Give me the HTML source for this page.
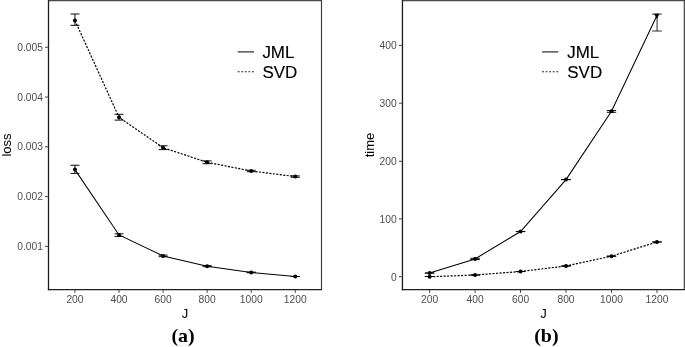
<!DOCTYPE html>
<html><head><meta charset="utf-8"><title>Figure</title>
<style>
html,body{margin:0;padding:0;background:#fff;}
body{width:685px;height:347px;overflow:hidden;font-family:"Liberation Sans",sans-serif;}
svg{display:block;will-change:transform;filter:grayscale(1);font-family:"Liberation Sans",sans-serif;}
</style></head><body>
<svg width="685" height="347" viewBox="0 0 685 347">
<rect x="0" y="0" width="685" height="347" fill="#fff"/>
<line x1="48.5" x2="322.0" y1="0.6" y2="0.6" stroke="#4b4b4b" stroke-width="1.3"/>
<line x1="321.5" x2="321.5" y1="0.5" y2="289.4" stroke="#3a3a3a" stroke-width="1.15"/>
<line x1="48.5" x2="48.5" y1="0" y2="290.35" stroke="#1c1c1c" stroke-width="1.3"/>
<line x1="47.85" x2="322.05" y1="289.65" y2="289.65" stroke="#202020" stroke-width="1.4"/>
<line x1="74.95" x2="74.95" y1="289.90" y2="292.90" stroke="#444" stroke-width="1"/>
<text x="74.95" y="302.7" font-size="10.25" fill="#4d4d4d" text-anchor="middle">200</text>
<line x1="119.02" x2="119.02" y1="289.90" y2="292.90" stroke="#444" stroke-width="1"/>
<text x="119.02" y="302.7" font-size="10.25" fill="#4d4d4d" text-anchor="middle">400</text>
<line x1="163.08" x2="163.08" y1="289.90" y2="292.90" stroke="#444" stroke-width="1"/>
<text x="163.08" y="302.7" font-size="10.25" fill="#4d4d4d" text-anchor="middle">600</text>
<line x1="207.15" x2="207.15" y1="289.90" y2="292.90" stroke="#444" stroke-width="1"/>
<text x="207.15" y="302.7" font-size="10.25" fill="#4d4d4d" text-anchor="middle">800</text>
<line x1="251.21" x2="251.21" y1="289.90" y2="292.90" stroke="#444" stroke-width="1"/>
<text x="251.21" y="302.7" font-size="10.25" fill="#4d4d4d" text-anchor="middle">1000</text>
<line x1="295.28" x2="295.28" y1="289.90" y2="292.90" stroke="#444" stroke-width="1"/>
<text x="295.28" y="302.7" font-size="10.25" fill="#4d4d4d" text-anchor="middle">1200</text>
<line x1="45.00" x2="48.5" y1="47.26" y2="47.26" stroke="#444" stroke-width="1"/>
<text x="42.90" y="50.81" font-size="10.25" fill="#4d4d4d" text-anchor="end">0.005</text>
<line x1="45.00" x2="48.5" y1="97.05" y2="97.05" stroke="#444" stroke-width="1"/>
<text x="42.90" y="100.60" font-size="10.25" fill="#4d4d4d" text-anchor="end">0.004</text>
<line x1="45.00" x2="48.5" y1="146.83" y2="146.83" stroke="#444" stroke-width="1"/>
<text x="42.90" y="150.38" font-size="10.25" fill="#4d4d4d" text-anchor="end">0.003</text>
<line x1="45.00" x2="48.5" y1="196.60" y2="196.60" stroke="#444" stroke-width="1"/>
<text x="42.90" y="200.15" font-size="10.25" fill="#4d4d4d" text-anchor="end">0.002</text>
<line x1="45.00" x2="48.5" y1="246.40" y2="246.40" stroke="#444" stroke-width="1"/>
<text x="42.90" y="249.95" font-size="10.25" fill="#4d4d4d" text-anchor="end">0.001</text>
<path d="M74.95,20.50 L119.02,117.30 L163.08,147.70 L207.15,162.30 L251.21,171.00 L295.28,176.60" fill="none" stroke="#000" stroke-width="1.2" stroke-dasharray="2.1 1.4"/>
<path d="M70.45,14.00H79.45M70.45,25.35H79.45M74.95,14.00V25.35" fill="none" stroke="#000" stroke-width="0.95"/>
<circle cx="74.95" cy="20.50" r="2.0" fill="#000"/>
<path d="M114.52,114.30H123.52M114.52,120.10H123.52M119.02,114.30V120.10" fill="none" stroke="#000" stroke-width="0.95"/>
<circle cx="119.02" cy="117.30" r="2.0" fill="#000"/>
<path d="M158.58,145.80H167.58M158.58,149.60H167.58M163.08,145.80V149.60" fill="none" stroke="#000" stroke-width="0.95"/>
<circle cx="163.08" cy="147.70" r="2.0" fill="#000"/>
<path d="M202.65,160.90H211.65M202.65,163.70H211.65M207.15,160.90V163.70" fill="none" stroke="#000" stroke-width="0.95"/>
<circle cx="207.15" cy="162.30" r="2.0" fill="#000"/>
<path d="M246.71,170.30H255.71M246.71,171.70H255.71M251.21,170.30V171.70" fill="none" stroke="#000" stroke-width="0.95"/>
<circle cx="251.21" cy="171.00" r="2.0" fill="#000"/>
<path d="M290.78,175.90H299.78M290.78,177.30H299.78M295.28,175.90V177.30" fill="none" stroke="#000" stroke-width="0.95"/>
<circle cx="295.28" cy="176.60" r="2.0" fill="#000"/>
<path d="M74.95,169.60 L119.02,234.95 L163.08,255.90 L207.15,266.20 L251.21,272.40 L295.28,276.50" fill="none" stroke="#000" stroke-width="1.05"/>
<path d="M70.45,165.25H79.45M70.45,173.40H79.45M74.95,165.25V173.40" fill="none" stroke="#000" stroke-width="0.95"/>
<circle cx="74.95" cy="169.60" r="2.0" fill="#000"/>
<path d="M114.52,233.80H123.52M114.52,236.45H123.52M119.02,233.80V236.45" fill="none" stroke="#000" stroke-width="0.95"/>
<circle cx="119.02" cy="234.95" r="2.0" fill="#000"/>
<path d="M158.58,255.10H167.58M158.58,256.70H167.58M163.08,255.10V256.70" fill="none" stroke="#000" stroke-width="0.95"/>
<circle cx="163.08" cy="255.90" r="2.0" fill="#000"/>
<path d="M202.65,265.70H211.65M202.65,266.70H211.65M207.15,265.70V266.70" fill="none" stroke="#000" stroke-width="0.95"/>
<circle cx="207.15" cy="266.20" r="2.0" fill="#000"/>
<path d="M246.71,272.10H255.71M246.71,272.70H255.71M251.21,272.10V272.70" fill="none" stroke="#000" stroke-width="0.95"/>
<circle cx="251.21" cy="272.40" r="2.0" fill="#000"/>
<path d="M290.78,276.50H299.78M290.78,276.50H299.78M295.28,276.50V276.50" fill="none" stroke="#000" stroke-width="0.95"/>
<circle cx="295.28" cy="276.50" r="2.0" fill="#000"/>
<line x1="237.8" x2="254.0" y1="51.9" y2="51.9" stroke="#222" stroke-width="1.15"/>
<line x1="237.8" x2="254.0" y1="71.7" y2="71.7" stroke="#222" stroke-width="1.15" stroke-dasharray="1.85 1.7"/>
<text transform="translate(262.4,58.1) scale(1.04,1)" font-size="16.3" fill="#000" stroke="#000" stroke-width="0.15">JML</text>
<text transform="translate(262.4,77.8) scale(1.04,1)" font-size="16.3" fill="#000" stroke="#000" stroke-width="0.15">SVD</text>
<text transform="translate(10.7,145) rotate(-90)" font-size="13.0" fill="#000" text-anchor="middle">loss</text>
<text x="185.1" y="317.6" font-size="13.0" fill="#000" text-anchor="middle">J</text>
<text transform="translate(183.1,341.9) scale(1.05,1)" font-size="19" font-weight="bold" font-family="'Liberation Serif', serif" fill="#000" text-anchor="middle">(a)</text>
<line x1="402.45" x2="685" y1="0.6" y2="0.6" stroke="#4b4b4b" stroke-width="1.3"/>
<line x1="684.4" x2="684.4" y1="1" y2="289.4" stroke="#505050" stroke-width="1.4"/>
<line x1="402.45" x2="402.45" y1="0" y2="290.35" stroke="#1c1c1c" stroke-width="1.3"/>
<line x1="401.80" x2="685.00" y1="289.65" y2="289.65" stroke="#202020" stroke-width="1.4"/>
<line x1="429.60" x2="429.60" y1="289.90" y2="292.90" stroke="#444" stroke-width="1"/>
<text x="429.60" y="302.7" font-size="10.25" fill="#4d4d4d" text-anchor="middle">200</text>
<line x1="475.07" x2="475.07" y1="289.90" y2="292.90" stroke="#444" stroke-width="1"/>
<text x="475.07" y="302.7" font-size="10.25" fill="#4d4d4d" text-anchor="middle">400</text>
<line x1="520.54" x2="520.54" y1="289.90" y2="292.90" stroke="#444" stroke-width="1"/>
<text x="520.54" y="302.7" font-size="10.25" fill="#4d4d4d" text-anchor="middle">600</text>
<line x1="566.01" x2="566.01" y1="289.90" y2="292.90" stroke="#444" stroke-width="1"/>
<text x="566.01" y="302.7" font-size="10.25" fill="#4d4d4d" text-anchor="middle">800</text>
<line x1="611.48" x2="611.48" y1="289.90" y2="292.90" stroke="#444" stroke-width="1"/>
<text x="611.48" y="302.7" font-size="10.25" fill="#4d4d4d" text-anchor="middle">1000</text>
<line x1="656.95" x2="656.95" y1="289.90" y2="292.90" stroke="#444" stroke-width="1"/>
<text x="656.95" y="302.7" font-size="10.25" fill="#4d4d4d" text-anchor="middle">1200</text>
<line x1="398.95" x2="402.45" y1="45.40" y2="45.40" stroke="#444" stroke-width="1"/>
<text x="396.65" y="49.25" font-size="10.25" fill="#4d4d4d" text-anchor="end">400</text>
<line x1="398.95" x2="402.45" y1="103.20" y2="103.20" stroke="#444" stroke-width="1"/>
<text x="396.65" y="107.05" font-size="10.25" fill="#4d4d4d" text-anchor="end">300</text>
<line x1="398.95" x2="402.45" y1="161.25" y2="161.25" stroke="#444" stroke-width="1"/>
<text x="396.65" y="165.10" font-size="10.25" fill="#4d4d4d" text-anchor="end">200</text>
<line x1="398.95" x2="402.45" y1="218.85" y2="218.85" stroke="#444" stroke-width="1"/>
<text x="396.65" y="222.70" font-size="10.25" fill="#4d4d4d" text-anchor="end">100</text>
<line x1="398.95" x2="402.45" y1="276.65" y2="276.65" stroke="#444" stroke-width="1"/>
<text x="396.65" y="280.50" font-size="10.25" fill="#4d4d4d" text-anchor="end">0</text>
<path d="M429.60,276.75 L475.07,275.00 L520.54,271.50 L566.01,266.00 L611.48,256.20 L656.95,242.00" fill="none" stroke="#000" stroke-width="1.2" stroke-dasharray="2.1 1.4"/>
<path d="M424.90,276.50H434.30M424.90,276.50H434.30M429.60,276.50V276.50" fill="none" stroke="#000" stroke-width="0.95"/>
<circle cx="429.60" cy="276.75" r="2.0" fill="#000"/>
<path d="M470.37,275.00H479.77M470.37,275.00H479.77M475.07,275.00V275.00" fill="none" stroke="#000" stroke-width="0.95"/>
<circle cx="475.07" cy="275.00" r="2.0" fill="#000"/>
<path d="M515.84,271.50H525.24M515.84,271.50H525.24M520.54,271.50V271.50" fill="none" stroke="#000" stroke-width="0.95"/>
<circle cx="520.54" cy="271.50" r="2.0" fill="#000"/>
<path d="M561.31,266.00H570.71M561.31,266.00H570.71M566.01,266.00V266.00" fill="none" stroke="#000" stroke-width="0.95"/>
<circle cx="566.01" cy="266.00" r="2.0" fill="#000"/>
<path d="M606.78,256.20H616.18M606.78,256.20H616.18M611.48,256.20V256.20" fill="none" stroke="#000" stroke-width="0.95"/>
<circle cx="611.48" cy="256.20" r="2.0" fill="#000"/>
<path d="M652.25,242.00H661.65M652.25,242.00H661.65M656.95,242.00V242.00" fill="none" stroke="#000" stroke-width="0.95"/>
<circle cx="656.95" cy="242.00" r="2.0" fill="#000"/>
<path d="M429.60,272.90 L475.07,258.90 L520.54,231.50 L566.01,179.60 L611.48,111.30 L656.95,15.60" fill="none" stroke="#000" stroke-width="1.05"/>
<path d="M424.90,273.05H434.30M424.90,273.05H434.30M429.60,273.05V273.05" fill="none" stroke="#000" stroke-width="0.95"/>
<circle cx="429.60" cy="272.90" r="2.0" fill="#000"/>
<path d="M470.37,258.30H479.77M470.37,259.50H479.77M475.07,258.30V259.50" fill="none" stroke="#000" stroke-width="0.95"/>
<circle cx="475.07" cy="258.90" r="2.0" fill="#000"/>
<path d="M515.84,231.55H525.24M515.84,231.55H525.24M520.54,231.55V231.55" fill="none" stroke="#000" stroke-width="0.95"/>
<circle cx="520.54" cy="231.50" r="2.0" fill="#000"/>
<path d="M561.31,179.60H570.71M561.31,179.60H570.71M566.01,179.60V179.60" fill="none" stroke="#000" stroke-width="0.95"/>
<circle cx="566.01" cy="179.60" r="2.0" fill="#000"/>
<path d="M606.78,110.50H616.18M606.78,112.30H616.18M611.48,110.50V112.30" fill="none" stroke="#000" stroke-width="0.95"/>
<circle cx="611.48" cy="111.30" r="2.0" fill="#000"/>
<path d="M652.10,14.05H661.80M652.10,31.00H661.80M657.05,14.05V31.00" fill="none" stroke="#2e2e2e" stroke-width="1"/>
<path d="M654.30,13.75H659.45L657.25,18.25Q656.75,18.95 656.25,18.25Z" fill="#000"/>
<line x1="542.1" x2="558.3" y1="51.9" y2="51.9" stroke="#222" stroke-width="1.15"/>
<line x1="542.1" x2="558.3" y1="71.7" y2="71.7" stroke="#222" stroke-width="1.15" stroke-dasharray="1.85 1.7"/>
<text transform="translate(567.3,58.1) scale(1.04,1)" font-size="16.3" fill="#000" stroke="#000" stroke-width="0.15">JML</text>
<text transform="translate(567.3,77.8) scale(1.04,1)" font-size="16.3" fill="#000" stroke="#000" stroke-width="0.15">SVD</text>
<text transform="translate(373.9,145) rotate(-90)" font-size="13.0" fill="#000" text-anchor="middle">time</text>
<text x="543.5" y="317.6" font-size="13.0" fill="#000" text-anchor="middle">J</text>
<text transform="translate(546.4,341.9) scale(1.05,1)" font-size="19" font-weight="bold" font-family="'Liberation Serif', serif" fill="#000" text-anchor="middle">(b)</text>
</svg>
</body></html>
